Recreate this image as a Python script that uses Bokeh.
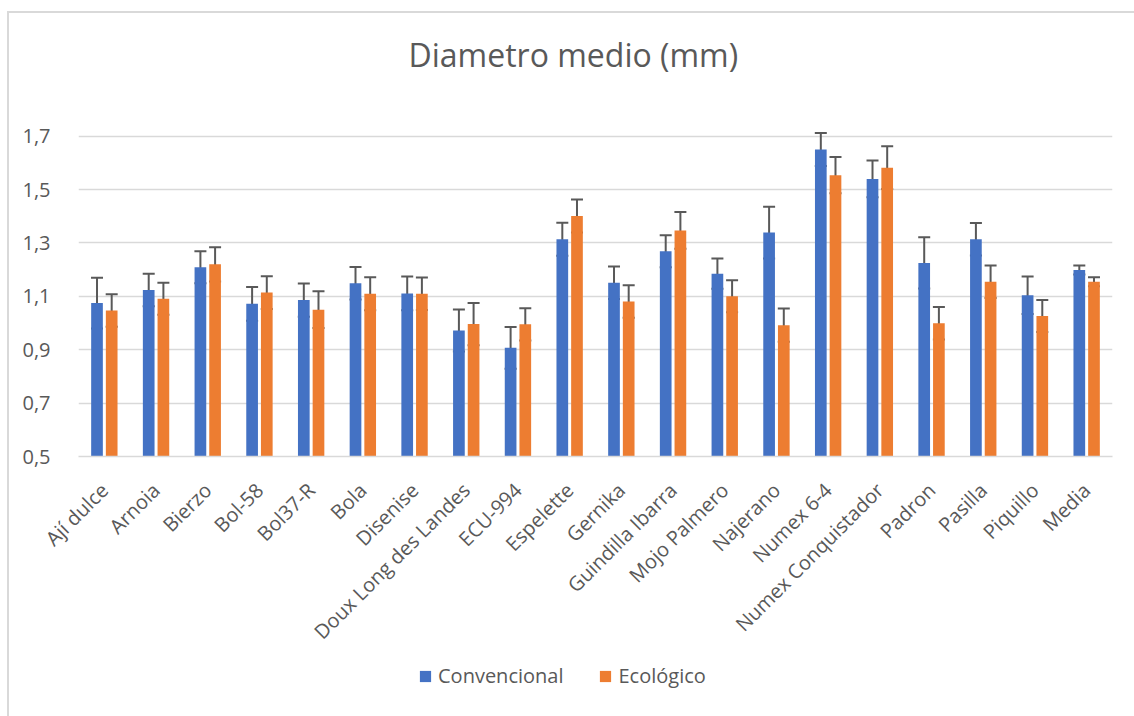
import math
from bokeh.plotting import figure
from bokeh.layouts import column
from bokeh.models import (ColumnDataSource, FactorRange, Range1d, FixedTicker, CustomJSTickFormatter,
                          Whisker, TeeHead, Legend, LegendItem, Label)
from bokeh.transform import dodge
from bokeh.embed import file_html
from bokeh.resources import INLINE

categories = ["Ají dulce", "Arnoia", "Bierzo", "Bol-58", "Bol37-R", "Bola", "Disenise",
              "Doux Long des Landes", "ECU-994", "Espelette", "Gernika", "Guindilla Ibarra",
              "Mojo Palmero", "Najerano", "Numex 6-4", "Numex Conquistador", "Padron",
              "Pasilla", "Piquillo", "Media"]
convencional = [1.075, 1.124, 1.209, 1.072, 1.086, 1.149, 1.111, 0.972, 0.907, 1.314,
                1.151, 1.269, 1.185, 1.339, 1.650, 1.540, 1.225, 1.314, 1.104, 1.199]
convencional_err = [0.095, 0.061, 0.060, 0.063, 0.062, 0.061, 0.063, 0.079, 0.078, 0.062,
                    0.061, 0.060, 0.057, 0.097, 0.062, 0.069, 0.096, 0.061, 0.070, 0.017]
ecologico = [1.047, 1.091, 1.220, 1.114, 1.050, 1.110, 1.110, 0.996, 0.995, 1.401,
             1.081, 1.347, 1.100, 0.992, 1.554, 1.582, 0.999, 1.155, 1.026, 1.155]
ecologico_err = [0.061, 0.060, 0.064, 0.061, 0.069, 0.062, 0.061, 0.079, 0.060, 0.062,
                 0.061, 0.069, 0.060, 0.062, 0.068, 0.080, 0.061, 0.061, 0.060, 0.017]
y_ticks = [0.5, 0.7, 0.9, 1.1, 1.3, 1.5, 1.7]
title_text = "Diametro medio (mm)"
series_names = ["Convencional", "Ecológico"]
colors = ["#4472C4", "#ED7D31"]

src = ColumnDataSource(dict(
    cat=categories,
    conv=convencional,
    conv_up=[v + e for v, e in zip(convencional, convencional_err)],
    conv_lo=[v - e for v, e in zip(convencional, convencional_err)],
    eco=ecologico,
    eco_up=[v + e for v, e in zip(ecologico, ecologico_err)],
    eco_lo=[v - e for v, e in zip(ecologico, ecologico_err)],
))

FONT = "Open Sans"
GREY = "#595959"
W = 1125
FRAME_W = 1034
TOP_H, MAIN_H, LEG_H = 96, 554, 53


def strip(h):
    f = figure(width=W, height=h, output_backend="svg", toolbar_location=None,
               x_axis_type=None, y_axis_type=None,
               x_range=Range1d(0, FRAME_W), y_range=Range1d(0, h), min_border=0)
    f.min_border_left = f.min_border_right = f.min_border_top = f.min_border_bottom = 0
    f.outline_line_color = None
    f.grid.grid_line_color = None
    f.border_fill_color = "white"
    f.background_fill_color = "white"
    return f


# title strip
tf = strip(TOP_H)
tf.add_layout(Label(x=330, y=55, text=title_text, text_font=FONT, text_font_size="32px",
                    text_color=GREY, text_align="left", text_baseline="alphabetic"))

# main chart
p = figure(x_range=FactorRange(*categories), y_range=Range1d(0.5, 1.8),
           width=W, height=MAIN_H, output_backend="svg", toolbar_location=None,
           min_border_left=69, min_border_right=22, min_border_top=0, min_border_bottom=207)
p.outline_line_color = None
p.background_fill_color = "white"
p.border_fill_color = "white"

off = 0.142
bw = 0.226
r1 = p.vbar(x=dodge("cat", -off, range=p.x_range), top="conv", bottom=0.5, width=bw,
            source=src, fill_color=colors[0], line_color=None)
r2 = p.vbar(x=dodge("cat", off, range=p.x_range), top="eco", bottom=0.5, width=bw,
            source=src, fill_color=colors[1], line_color=None)

for base_off, up, lo in [(-off, "conv_up", "conv_lo"), (off, "eco_up", "eco_lo")]:
    w = Whisker(source=src, base=dodge("cat", base_off, range=p.x_range), upper=up, lower=lo,
                line_color=GREY, line_width=2,
                upper_head=TeeHead(size=12, line_color=GREY, line_width=2),
                lower_head=TeeHead(size=12, line_color=GREY, line_width=2))
    p.add_layout(w)

p.xgrid.grid_line_color = None
p.ygrid.grid_line_color = "#d9d9d9"
p.ygrid.grid_line_width = 1.3

p.yaxis.ticker = FixedTicker(ticks=y_ticks)
p.yaxis.formatter = CustomJSTickFormatter(code="return tick.toFixed(1).replace('.', ',');")
p.yaxis.axis_line_color = None
p.yaxis.major_tick_line_color = None
p.yaxis.minor_tick_line_color = None
p.yaxis.major_label_standoff = 22
p.yaxis.major_label_text_font = FONT
p.yaxis.major_label_text_font_size = "20px"
p.yaxis.major_label_text_color = GREY

p.xaxis.axis_line_color = "#d9d9d9"
p.xaxis.axis_line_width = 1.3
p.xaxis.major_tick_line_color = None
p.xaxis.minor_tick_line_color = None
p.xaxis.major_label_orientation = math.pi / 4
p.xaxis.major_label_standoff = 24
p.xaxis.major_label_text_font = FONT
p.xaxis.major_label_text_font_size = "20px"
p.xaxis.major_label_text_color = GREY

# legend strip
lf = strip(LEG_H)
lr1 = lf.vbar(x=[-100], top=[-100], width=1, fill_color=colors[0], line_color=None)
lr2 = lf.vbar(x=[-100], top=[-100], width=1, fill_color=colors[1], line_color=None)
legend = Legend(items=[LegendItem(label=series_names[0], renderers=[lr1]),
                       LegendItem(label=series_names[1], renderers=[lr2])],
                orientation="horizontal", location=(340, 27),
                label_text_font=FONT, label_text_font_size="20px", label_text_color=GREY,
                glyph_width=14, glyph_height=14, label_standoff=6, spacing=35,
                padding=0, margin=0, border_line_color=None, background_fill_alpha=0)
lf.add_layout(legend)

layout = column(tf, p, lf, spacing=0)
layout.margin = (11, 0, 0, 7)
layout.styles = {"border-left": "2px solid #d9d9d9", "border-top": "2px solid #d9d9d9"}

open("out.html", "w").write(file_html(layout, INLINE))
